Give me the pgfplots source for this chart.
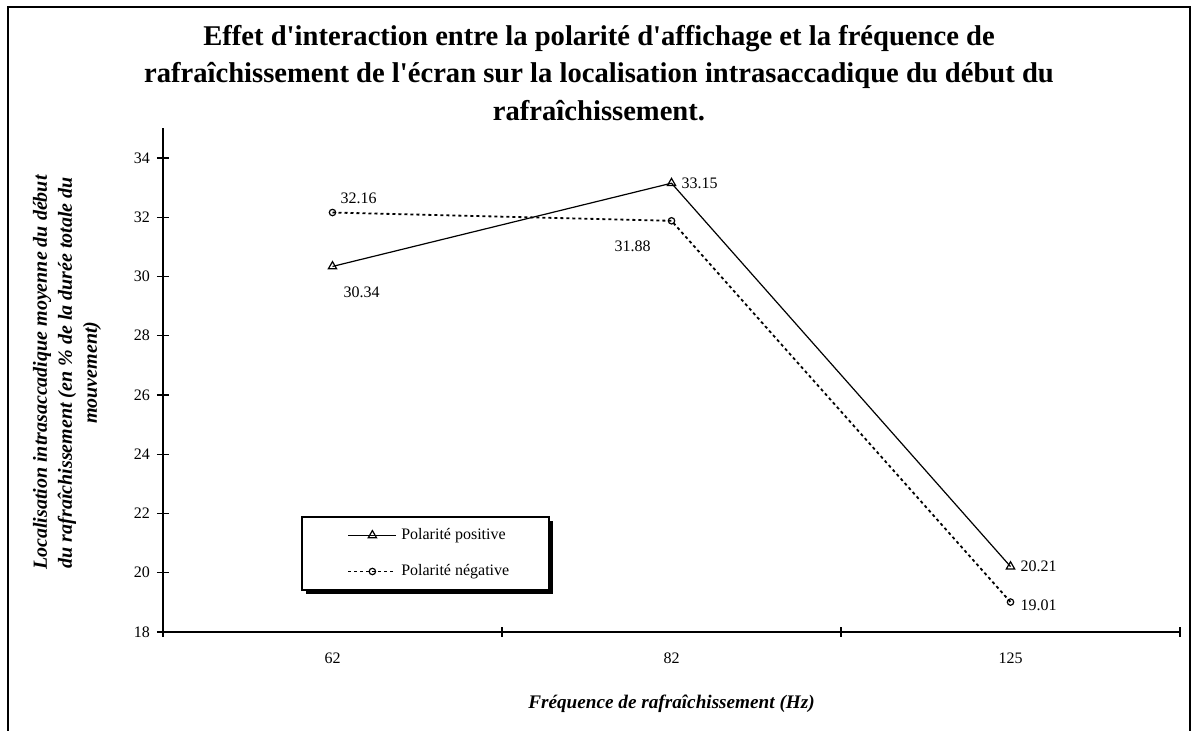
\documentclass[border=0pt]{standalone}
\usepackage{fontspec}
\setmainfont{Liberation Serif}
\usepackage{pgfplots}
\pgfplotsset{compat=1.18}
\usetikzlibrary{shadows}

\begin{document}
\begin{tikzpicture}
\useasboundingbox (0pt,0pt) rectangle (598.5pt,365.5pt);
% cadre du graphique
\draw[line width=0.8pt] (4pt,0pt) -- (4pt,362pt) -- (595pt,362pt) -- (595pt,0pt);
\node[align=center, font=\fontsize{14.3}{18.75}\selectfont\bfseries] at (299.5pt,329pt)
  {Effet d\textquotesingle interaction entre la polarité d\textquotesingle affichage et la fréquence de\\
   rafraîchissement de l\textquotesingle écran sur la localisation intrasaccadique du début du\\
   rafraîchissement.};

\begin{axis}[
    at={(81.5pt,49.5pt)}, anchor=south west,
    scale only axis, width=508.5pt, height=251.8pt,
    xmin=-0.5, xmax=2.5, ymin=18, ymax=35,
    axis lines=left,
    axis line style={-, line width=0.6pt},
    xtick={0,1,2}, xticklabels={62,82,125},
    minor xtick={-0.5,0.5,1.5,2.5},
    ytick={18,20,...,34},
    tick align=center,
    tick style={black, line width=0.6pt},
    major tick length=6pt, minor tick length=5pt,
    major x tick style={draw=none},
    ticklabel style={font=\fontsize{8}{9.6}\selectfont},
    xticklabel style={yshift=-4pt},
    /pgf/number format/assume math mode=true,
    xlabel={Fréquence de rafraîchissement (Hz)},
    ylabel={Localisation intrasaccadique moyenne du début\\du rafraîchissement (en \% de la durée totale du\\mouvement)},
    every axis x label/.style={at={(axis description cs:0.5,-0.143)}, anchor=center,
        font=\fontsize{9.6}{11}\selectfont\bfseries\itshape},
    every axis y label/.style={at={(axis description cs:-0.0944,0.515)}, anchor=center,
        rotate=90, align=center, font=\fontsize{10}{12.5}\selectfont\bfseries\itshape},
    legend style={at={(rel axis cs:0.181,0.156)}, anchor=west,
        draw=none, fill=none, font=\fontsize{8}{9.6}\selectfont,
        inner xsep=0pt, inner ysep=0pt, row sep=7pt},
    legend cell align=left,
    legend image code/.code={\draw[mark repeat=2, mark phase=2, #1]
        plot coordinates {(0pt,0pt) (12pt,0pt) (24pt,0pt)};},
]
\addplot[black, line width=0.6pt, mark=triangle, mark size=2.4pt,
    mark options={solid, fill=white}]
    coordinates {(0,30.34) (1,33.15) (2,20.21)};
\addlegendentry{Polarité positive}

\addplot[black, line width=0.9pt, dash pattern=on 1.5pt off 1.5pt,
    mark=o, mark size=1.6pt, mark options={solid, line width=0.6pt, fill=white}]
    coordinates {(0,32.16) (1,31.88) (2,19.01)};
\addlegendentry{Polarité négative}

% cadre de la légende avec ombre
\draw[black, line width=0.6pt, fill=white,
    drop shadow={shadow xshift=2pt, shadow yshift=-2pt, fill=black, opacity=1}]
    (rel axis cs:0.1367,0.0834) rectangle (rel axis cs:0.3795,0.2284);

% étiquettes des valeurs
\begin{scope}[every node/.style={font=\fontsize{8}{9.6}\selectfont}]
\node[xshift=14.5pt, yshift=-13pt] at (axis cs:0,30.34) {30.34};
\node[xshift=13pt, yshift=7pt] at (axis cs:0,32.16) {32.16};
\node[xshift=14pt] at (axis cs:1,33.15) {33.15};
\node[xshift=-19.5pt, yshift=-12.5pt] at (axis cs:1,31.88) {31.88};
\node[xshift=14pt] at (axis cs:2,20.21) {20.21};
\node[xshift=14pt, yshift=-1.5pt] at (axis cs:2,19.01) {19.01};
\end{scope}
\end{axis}
\end{tikzpicture}
\end{document}
